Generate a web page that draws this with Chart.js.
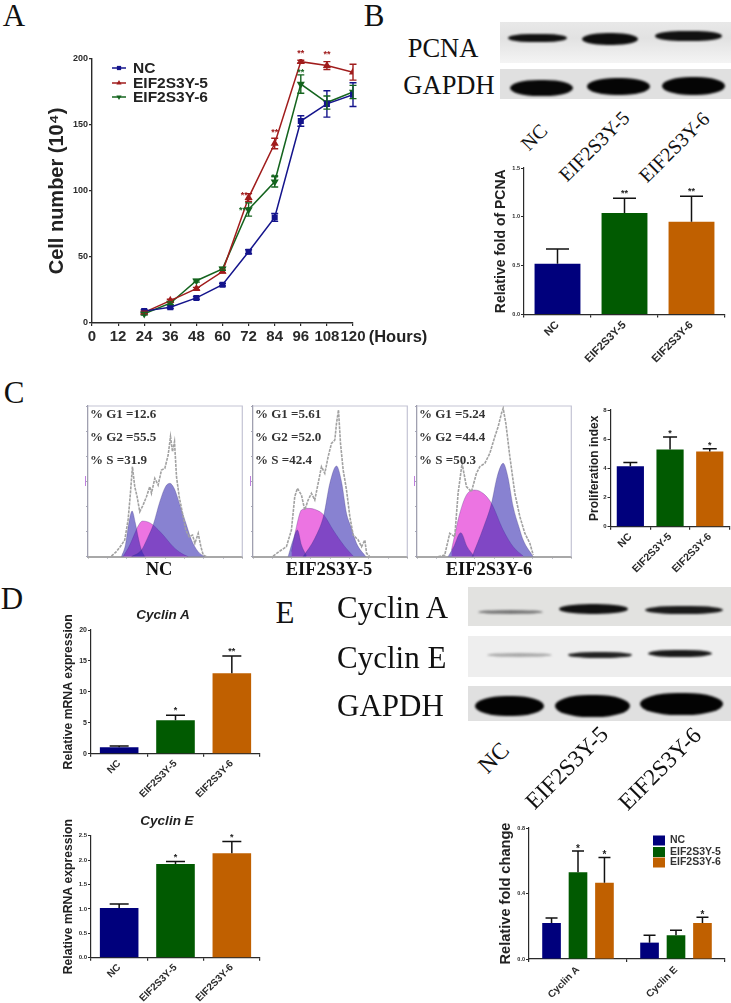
<!DOCTYPE html>
<html><head><meta charset="utf-8">
<script src="https://cdn.jsdelivr.net/npm/chart.js"></script>
<style>
html,body{margin:0;padding:0;background:#fff;width:731px;height:1003px;overflow:hidden}
#w{position:absolute;left:0;top:0;width:731px;height:1003px;filter:blur(.6px);overflow:hidden;background:#fff}
canvas{position:absolute}
.t{position:absolute;white-space:nowrap;line-height:1}
.b{position:absolute;overflow:hidden}
.d{position:absolute;filter:blur(1.3px)}
</style></head><body><div id="w"></div>
<script>
// ---------- data ----------
const hours=[24,36,48,60,72,84,96,108,120];
const hourTicks=[0,12,24,36,48,60,72,84,96,108,120];
const seriesNames=['NC','EIF2S3Y-5','EIF2S3Y-6'];
const ncCells=[9,12,19,29,54,80,153,166,173];
const e5Cells=[8,17,26,39,95,136,198,195,190];
const e6Cells=[7,15,32,41,86,107,181,167,175];
const ncErr=[1,1,1,1,1.5,3,4,10,9];
const e5Err=[1,1,1,1,3,4,1,3,6];
const e6Err=[1,1,1,1,5,4,7,5,5];
const pcna=[0.52,1.04,0.95], pcnaTop=[0.67,1.19,1.21], pcnaStars=['','**','**'];
const prolif=[4.15,5.3,5.15], prolifTop=[4.4,6.15,5.35], prolifStars=['','*','*'];
const cycA=[1.05,5.4,13], cycATop=[1.25,6.2,15.8], cycAStars=['','*','**'];
const cycE=[1.02,1.92,2.14], cycETop=[1.1,1.97,2.38], cycEStars=['','*','*'];
const proteinCats=['Cyclin A','Cyclin E'];
const protNC=[0.22,0.10], protNCTop=[0.25,0.145];
const protE5=[0.53,0.145], protE5Top=[0.66,0.175];
const protE6=[0.465,0.22], protE6Top=[0.62,0.255];
// flow histograms (channel, count)
const nOutCh=[70,85,100,110,120,127,133,140,147,155,165,175,185,190,200,210,220,230,240,247,253,259,265,273,283,293,303,313,320,330,338,345,355];
const nOutCt=[2,15,35,50,110,190,270,210,180,135,155,180,210,190,235,215,260,265,305,360,315,345,240,180,130,80,60,65,40,70,30,5,0];
const nG1Ch=[100,112,122,132,142,150,160,170], nG1Ct=[0,35,100,137,100,60,20,0];
const nSCh=[105,125,140,150,163,180,195,225,255,280,300], nSCt=[0,35,70,92,107,104,95,65,30,10,0];
const nG2Ch=[130,160,180,195,215,232,245,258,280,295,310,330,350], nG2Ct=[0,20,60,95,165,210,220,205,140,95,50,15,0];
const fOutCh=[60,85,100,115,125,133,145,155,165,175,185,195,205,215,225,235,245,250,256,262,270,280,290,300,315,325,335,340,350];
const fOutCt=[2,20,30,80,180,205,185,140,170,190,170,220,270,250,300,340,350,400,440,340,260,200,120,65,50,30,50,10,0];
const fG1Ch=[105,120,133,145,160], fG1Ct=[0,50,80,35,3];
const fSCh=[115,130,145,165,190,212,240,275,300], fSCt=[15,90,140,145,140,125,80,30,2];
const fG2Ch=[150,185,212,230,250,265,280,295,310,338], fG2Ct=[0,55,125,220,272,225,130,85,40,0];
const sOutCh=[63,83,98,113,123,135,148,163,178,188,203,218,233,243,253,258,266,278,293,308,323,338,348];
const sOutCt=[0,5,70,60,190,280,210,195,250,270,280,310,360,390,430,445,400,300,190,120,70,40,5];
const sG1Ch=[93,110,131,150,170], sG1Ct=[0,30,72,30,3];
const sSCh=[103,128,148,173,198,223,258,288,318], sSCt=[20,130,185,200,190,160,80,30,2];
const sG2Ch=[165,198,223,240,258,272,288,305,318,348], sG2Ct=[0,85,160,240,280,240,150,90,50,0];

// ---------- helpers ----------
const W=document.getElementById('w');
const SANS='"Liberation Sans",Arial,sans-serif', SERIF='"Liberation Serif","Times New Roman",serif';
const NAVY='#00007c',GREEN='#015a01',ORANGE='#c06000',INK='#2a2a2a';
function txt(s,x,y,font,o={}){const e=document.createElement('div');e.className='t';e.textContent=s;e.style.font=font;e.style.lineHeight='1';
 e.style.left=x+'px';e.style.top=y+'px';e.style.color=o.color||'#111';
 e.style.transform=`translate(${o.left?'0':'-50%'},-50%) rotate(${o.rot||0}deg)`;if(o.sp)e.style.letterSpacing=o.sp;W.appendChild(e);}
function blot(x,y,w,h,bg,bands){const e=document.createElement('div');e.className='b';e.style.cssText=`left:${x}px;top:${y}px;width:${w}px;height:${h}px;background:${bg}`;
 bands.forEach(b=>{const d=document.createElement('div');d.className='d';d.style.cssText+=`left:${b[0]-x}px;top:${b[1]-y}px;width:${b[2]}px;height:${b[3]}px;background:${b[4]};border-radius:${b[5]||'45%/50%'}`;e.appendChild(d);});W.appendChild(e);}
function mk(box,plot,cfg){const [bx,by,bw,bh]=box,[l,t,r,b]=plot;const c=document.createElement('canvas');c.width=bw;c.height=bh;c.style.cssText=`left:${bx}px;top:${by}px;width:${bw}px;height:${bh}px`;W.appendChild(c);
 const z=s=>{s.paddingLeft=s.paddingRight=s.paddingTop=s.paddingBottom=0};
 cfg.options=Object.assign({responsive:false,animation:false,events:[],layout:{padding:{left:0,top:t-by,right:bx+bw-r,bottom:0}}},cfg.options);
 cfg.options.plugins=Object.assign({legend:{display:false},tooltip:{enabled:false}},cfg.options.plugins||{});
 cfg.options.scales.x.afterFit=s=>{s.height=by+bh-b;z(s)};
 cfg.options.scales.y.afterFit=s=>{s.width=l-bx;z(s)};
 return new Chart(c,cfg);}
const axisGrid=(len,w)=>({display:true,drawOnChartArea:false,drawTicks:true,tickLength:len,color:INK,lineWidth:w});
function zip(a,b){return a.map((v,i)=>({x:v,y:b[i]}));}

// error bars for bar charts: tops[dataset][index]
function barErr(tops,capW,lw,stars,gap,starSize){return {id:'barErr',afterDatasetsDraw(ch){const g=ch.ctx,y=ch.scales.y;g.save();g.strokeStyle='#111';g.fillStyle='#222';g.lineWidth=lw;
 tops.forEach((arr,d)=>{const m=ch.getDatasetMeta(d);arr.forEach((v,i)=>{const el=m.data[i],yt=y.getPixelForValue(v);g.beginPath();g.moveTo(el.x,el.y);g.lineTo(el.x,yt);g.moveTo(el.x-capW/2,yt);g.lineTo(el.x+capW/2,yt);g.stroke();
  const s=stars&&stars[d]&&stars[d][i];if(s){g.font=`bold ${starSize}px ${SANS}`;g.textAlign='center';g.textBaseline='alphabetic';g.fillText(s,el.x,yt-gap);}});});g.restore();}};}

// single-series three-bar chart
function threeBars(box,plot,vals,tops,stars,yMax,yStep,yTitle,titleSize,tickSize,labSize,capW,dec,gap){
 mk(box,plot,{type:'bar',data:{labels:seriesNames,datasets:[{data:vals,backgroundColor:[NAVY,GREEN,ORANGE],borderWidth:0,categoryPercentage:1,barPercentage:.685}]},
 options:{scales:{
  x:{type:'category',offset:true,grid:axisGrid(3,1.2),border:{display:true,color:INK,width:1.3},ticks:{color:INK,font:{family:SANS,weight:'bold',size:labSize},minRotation:45,maxRotation:45,padding:1,autoSkip:false}},
  y:{min:0,max:yMax,grid:axisGrid(3,1),border:{display:true,color:INK,width:1.2},ticks:{stepSize:yStep,color:INK,padding:1,font:{family:SANS,weight:'bold',size:tickSize},callback:v=>v.toFixed(dec)},
     title:{display:true,text:yTitle,color:'#222',padding:0,font:{family:SANS,weight:'bold',size:titleSize,lineHeight:1}}}}},
 plugins:[barErr([tops],capW,1.5,[stars],gap,9)]});}

// ---------- panel letters ----------
[['A',14,15],['B',374,15],['C',14,392],['D',12,598],['E',285,612]].forEach(a=>txt(a[0],a[1],a[2],`31px ${SERIF}`,{color:'#111'}));

// ---------- panel A ----------
const lineColors=['#14148c','#a01c1c','#14641e'];
const lineErrs=[ncErr,e5Err,e6Err];
const lineStars=[[96,206,'**',0],[108,205,'**',0],[84,146,'**',0],[70,98,'**',0],[70,87,'***',1],[84,112,'**',1],[96,191,'**',1]];
mk([47,45,323,300],[92,59,353,323],{type:'line',data:{datasets:[
 {label:seriesNames[0],data:zip(hours,ncCells),borderColor:lineColors[0],backgroundColor:lineColors[0],pointStyle:'rect',pointRadius:3.2,borderWidth:1.5,tension:0},
 {label:seriesNames[1],data:zip(hours,e5Cells),borderColor:lineColors[1],backgroundColor:lineColors[1],pointStyle:'triangle',pointRadius:3.2,borderWidth:1.5,tension:0},
 {label:seriesNames[2],data:zip(hours,e6Cells),borderColor:lineColors[2],backgroundColor:lineColors[2],pointStyle:'triangle',pointRotation:180,pointRadius:3.2,borderWidth:1.5,tension:0}]},
 options:{scales:{
  x:{type:'linear',min:0,max:120,afterBuildTicks:s=>{s.ticks=hourTicks.map(v=>({value:v}))},grid:axisGrid(3,1.2),border:{display:true,color:INK,width:1.4},ticks:{color:INK,autoSkip:false,maxRotation:0,padding:2,font:{family:SANS,weight:'bold',size:15}}},
  y:{min:0,max:200,grid:axisGrid(3,1.2),border:{display:true,color:INK,width:1.4},ticks:{stepSize:50,color:INK,padding:1,font:{family:SANS,weight:'bold',size:9}},
     title:{display:true,text:'Cell number (10\u2074)',color:'#222',padding:0,font:{family:SANS,weight:'bold',size:20,lineHeight:1}}}}},
 plugins:[{id:'lineErr',afterDatasetsDraw(ch){const g=ch.ctx,x=ch.scales.x,y=ch.scales.y;g.save();g.lineWidth=1.4;
  lineErrs.forEach((errs,d)=>{g.strokeStyle=lineColors[d];errs.forEach((e,i)=>{const px=x.getPixelForValue(hours[i]),a=y.getPixelForValue(ch.data.datasets[d].data[i].y+e),b=y.getPixelForValue(ch.data.datasets[d].data[i].y-e);g.beginPath();g.moveTo(px,a);g.lineTo(px,b);g.moveTo(px-3.5,a);g.lineTo(px+3.5,a);g.moveTo(px-3.5,b);g.lineTo(px+3.5,b);g.stroke();});});
  g.font=`bold 9px ${SANS}`;g.textAlign='center';g.textBaseline='middle';
  lineStars.forEach(s=>{g.fillStyle=lineColors[s[3]==0?1:2];g.fillText(s[2],x.getPixelForValue(s[0]),y.getPixelForValue(s[1])+2);});
  // legend keys (canvas starts at 47,45)
  ch.data.datasets.forEach((ds,i)=>{const ly=[68,83,97][i]-45;g.strokeStyle=ds.borderColor;g.fillStyle=ds.borderColor;g.lineWidth=1.5;g.beginPath();g.moveTo(65,ly);g.lineTo(79,ly);g.stroke();
   Chart.helpers.drawPoint(g,{pointStyle:ds.pointStyle,radius:3,rotation:ds.pointRotation||0},72,ly);});
  g.restore();}}]});
txt('NC',133,68,`bold 15.5px ${SANS}`,{left:1,color:'#222'});
txt('EIF2S3Y-5',133,83,`bold 15.5px ${SANS}`,{left:1,color:'#222'});
txt('EIF2S3Y-6',133,97,`bold 15.5px ${SANS}`,{left:1,color:'#222'});
txt('(Hours)',398,336,`bold 16.5px ${SANS}`,{color:'#222'});

// ---------- panel B ----------
blot(500,22,231,41,'linear-gradient(#e8e8e8,#e2e2e2 40%,#f4f4f4)',[[508,34,59,8,'#111','50%/70%'],[582,33,56,12,'#0d0d0d'],[655,31,67,10,'#111','50%/70%']]);
blot(500,69,231,30,'#e0e0e0',[[510,80,63,16,'#080808'],[587,78,63,17,'#050505'],[662,77,63,18,'#050505']]);
txt('PCNA',443,48,`26.5px ${SERIF}`);
txt('GAPDH',449,85,`26.5px ${SERIF}`);
txt('NC',534,137,`20px ${SERIF}`,{rot:-45});
txt('EIF2S3Y-5',594,146,`20px ${SERIF}`,{rot:-45});
txt('EIF2S3Y-6',674,147,`20px ${SERIF}`,{rot:-45});
threeBars([494,150,237,235],[524,168,725,314.5],pcna,pcnaTop,pcnaStars,1.5,.5,'Relative fold of PCNA',14,5.5,11,23,1,2);

// ---------- panel C ----------
function flow(x0,outCh,outCt,g1Ch,g1Ct,sCh,sCt,g2Ch,g2Ct){
 const blue='rgba(50,40,175,.58)',line='rgba(60,50,120,.4)';
 const comp=(c,t,bg,o)=>({data:zip(c,t),fill:'origin',backgroundColor:bg,borderColor:line,borderWidth:.7,pointRadius:0,cubicInterpolationMode:'monotone',order:o});
 mk([x0-6,400,172,170],[x0,406,x0+154.3,556.7],{type:'line',data:{datasets:[
  {data:zip(outCh,outCt),borderColor:'#a2a2a2',borderWidth:1.6,borderDash:[3,1],pointRadius:0,tension:0,fill:false,order:0},
  comp(g2Ch,g2Ct,blue,1),comp(g1Ch,g1Ct,blue,2),comp(sCh,sCt,'#ec74e2',3)]},
  options:{scales:{
   x:{type:'linear',min:0,max:462,grid:{display:true,drawOnChartArea:false,tickLength:2,color:'#a8a8b8',lineWidth:1},border:{display:true,color:'#a8a8a8',width:2},ticks:{stepSize:57.75,display:false}},
   y:{min:0,max:452,grid:{display:true,drawOnChartArea:false,tickLength:2,color:'#a8a8b8',lineWidth:1},border:{display:true,color:'#a0a0b0',width:1.3},ticks:{stepSize:75.33,display:false}}}},
  plugins:[{id:'frame',beforeDatasetsDraw(ch){const g=ch.ctx,a=ch.chartArea;g.save();g.strokeStyle='#c4c4d4';g.lineWidth=1.2;g.beginPath();g.moveTo(a.left,a.top);g.lineTo(a.right,a.top);g.lineTo(a.right,a.bottom);g.stroke();g.restore();}}]});
 const d=document.createElement('div');d.style.cssText=`position:absolute;left:${x0-3.5}px;top:476px;width:1px;height:10px;background:#c080e0`;W.appendChild(d);
}
flow(88.3,nOutCh,nOutCt,nG1Ch,nG1Ct,nSCh,nSCt,nG2Ch,nG2Ct);
flow(253.3,fOutCh,fOutCt,fG1Ch,fG1Ct,fSCh,fSCt,fG2Ch,fG2Ct);
flow(417.3,sOutCh,sOutCt,sG1Ch,sG1Ct,sSCh,sSCt,sG2Ch,sG2Ct);
[[90,['% G1 =12.6','% G2 =55.5','% S =31.9']],[255,['% G1 =5.61','% G2 =52.0','% S =42.4']],[419,['% G1 =5.24','% G2 =44.4','% S =50.3']]].forEach(p=>p[1].forEach((s,i)=>txt(s,p[0],[413,436,459][i],`bold 13px ${SERIF}`,{left:1,color:'#333'})));
txt('NC',159,569,`bold 18.5px ${SERIF}`);
txt('EIF2S3Y-5',329,569,`bold 18.5px ${SERIF}`);
txt('EIF2S3Y-6',489,569,`bold 18.5px ${SERIF}`);
threeBars([589,400,142,175],[610.5,410,729.6,526.7],prolif,prolifTop,prolifStars,8,2,'Proliferation index',12,6,10.5,14,0,1);

// ---------- panel D ----------
txt('Cyclin A',163,615,`italic bold 13.5px ${SANS}`,{color:'#222'});
threeBars([63,605,205,205],[91,630,260,753.7],cycA,cycATop,cycAStars,20,5,'Relative mRNA expression',12.2,7,10,19,0,2);
txt('Cyclin E',167,821,`italic bold 13.5px ${SANS}`,{color:'#222'});
threeBars([63,812,205,191],[91,835.7,260,957.7],cycE,cycETop,cycEStars,2.5,.5,'Relative mRNA expression',12.2,6,10,19,1,2);

// ---------- panel E ----------
blot(468,587,263,39,'#e2e2e0',[[478,610,65,4,'#777','50%/50%'],[559,604,69,10,'#111'],[645,606,78,8,'#1a1a1a','50%/60%']]);
blot(468,636,263,41,'#eeeeee',[[487,653,65,4,'#aaa','50%/50%'],[568,652,64,6,'#222','50%/60%'],[648,650,64,7,'#1a1a1a','50%/60%']]);
blot(468,686,263,35,'#e0e0e0',[[475,696,69,20,'#030303'],[555,695,75,22,'#030303'],[640,693,83,22,'#030303']]);
txt('Cyclin A',337,607,`31px ${SERIF}`,{left:1});
txt('Cyclin E',337,657,`31px ${SERIF}`,{left:1});
txt('GAPDH',337,705,`31px ${SERIF}`,{left:1});
txt('NC',494,758,`23.5px ${SERIF}`,{rot:-45});
txt('EIF2S3Y-5',567,768,`23.5px ${SERIF}`,{rot:-45});
txt('EIF2S3Y-6',660,769,`23.5px ${SERIF}`,{rot:-45});
mk([499,818,232,185],[529,828,725,959],{type:'bar',data:{labels:proteinCats,datasets:[
 {label:seriesNames[0],data:protNC,backgroundColor:NAVY,categoryPercentage:.81,barPercentage:.705},
 {label:seriesNames[1],data:protE5,backgroundColor:GREEN,categoryPercentage:.81,barPercentage:.705},
 {label:seriesNames[2],data:protE6,backgroundColor:ORANGE,categoryPercentage:.81,barPercentage:.705}]},
 options:{scales:{
  x:{type:'category',offset:true,grid:axisGrid(3,1.2),border:{display:true,color:INK,width:1.3},ticks:{color:INK,font:{family:SANS,weight:'bold',size:10},minRotation:45,maxRotation:45,padding:2,autoSkip:false}},
  y:{min:0,max:.8,grid:axisGrid(3,1),border:{display:true,color:INK,width:1.2},ticks:{stepSize:.4,color:INK,padding:1,font:{family:SANS,weight:'bold',size:5.5},callback:v=>v.toFixed(1)},
     title:{display:true,text:'Relative fold change',color:'#222',padding:0,font:{family:SANS,weight:'bold',size:14.6,lineHeight:1}}}}},
 plugins:[barErr([protNCTop,protE5Top,protE6Top],12,1.5,[['',''],['*',''],['*','*']],-1,10),
 {id:'leg',afterDraw(ch){const g=ch.ctx;g.save();g.textBaseline='middle';g.font=`bold 10.5px ${SANS}`;ch.data.datasets.forEach((ds,i)=>{const ly=[840.5,852,862.5][i]-818;g.fillStyle=ds.backgroundColor;g.fillRect(653-499,ly-5,12,10);g.fillStyle='#333';g.fillText(ds.label,670-499,ly);});g.restore();}}]});
</script></body></html>
